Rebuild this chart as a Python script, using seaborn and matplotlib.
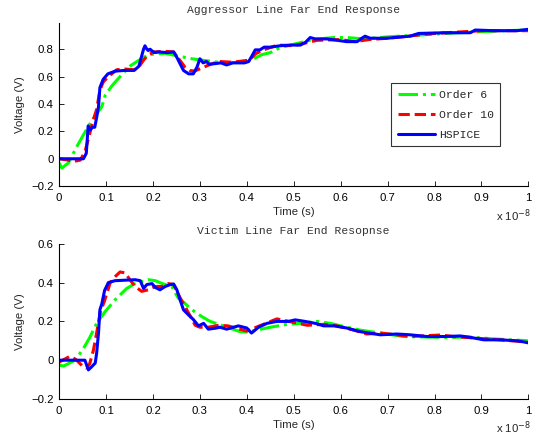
import matplotlib
matplotlib.use("Agg")
import matplotlib.pyplot as plt
import seaborn as sns

# time axis in units of 1e-8 s
agg_hspice_t = [0, 0.052, 0.058, 0.062, 0.066, 0.071, 0.076, 0.08, 0.084, 0.087, 0.094, 0.104,
                0.12, 0.14, 0.16, 0.17, 0.18, 0.183, 0.187, 0.19, 0.194, 0.197, 0.204, 0.212,
                0.23, 0.244, 0.251, 0.265, 0.276, 0.286, 0.294, 0.30, 0.307, 0.314, 0.32,
                0.333, 0.345, 0.357, 0.37, 0.379, 0.395, 0.404, 0.41, 0.418, 0.428, 0.437,
                0.45, 0.471, 0.493, 0.514, 0.525, 0.535, 0.546, 0.571, 0.592, 0.613, 0.635,
                0.645, 0.652, 0.663, 0.699, 0.748, 0.766, 0.82, 0.876, 0.887, 0.926, 0.976, 1.0]
agg_hspice_v = [0, 0, 0.04, 0.24, 0.21, 0.23, 0.23, 0.30, 0.38, 0.52, 0.58, 0.62,
                0.64, 0.645, 0.645, 0.675, 0.80, 0.825, 0.80, 0.79, 0.80, 0.79, 0.775, 0.78,
                0.775, 0.78, 0.74, 0.645, 0.62, 0.62, 0.67, 0.73, 0.70, 0.71, 0.69,
                0.695, 0.70, 0.685, 0.70, 0.70, 0.70, 0.71, 0.745, 0.795, 0.795, 0.815,
                0.815, 0.825, 0.83, 0.83, 0.85, 0.885, 0.875, 0.875, 0.865, 0.855, 0.855,
                0.88, 0.895, 0.88, 0.88, 0.895, 0.915, 0.92, 0.92, 0.94, 0.935, 0.935, 0.945]

agg_o10_t = [0, 0.02, 0.03, 0.045, 0.055, 0.062, 0.073, 0.08, 0.087, 0.094, 0.105, 0.123,
             0.14, 0.16, 0.17, 0.18, 0.19, 0.204, 0.225, 0.244, 0.255, 0.268, 0.278, 0.289,
             0.302, 0.323, 0.34, 0.37, 0.405, 0.42, 0.44, 0.466, 0.5, 0.55, 0.6, 0.63, 0.66,
             0.7, 0.8, 0.9, 1.0]
agg_o10_v = [0.0, -0.01, -0.02, -0.01, 0.05, 0.14, 0.285, 0.36, 0.50, 0.56, 0.60, 0.65,
             0.655, 0.65, 0.67, 0.72, 0.76, 0.78, 0.785, 0.78, 0.73, 0.67, 0.645, 0.64,
             0.66, 0.69, 0.71, 0.705, 0.72, 0.77, 0.80, 0.83, 0.825, 0.865, 0.87, 0.855, 0.87,
             0.88, 0.915, 0.935, 0.935]

agg_o6_t = [0, 0.006, 0.02, 0.038, 0.052, 0.07, 0.091, 0.098, 0.112, 0.13, 0.151, 0.166,
            0.19, 0.225, 0.254, 0.283, 0.304, 0.35, 0.4, 0.432, 0.45, 0.47, 0.54, 0.585,
            0.613, 0.65, 0.7, 0.8, 0.85, 0.95, 1.0]
agg_o6_v = [-0.03, -0.068, -0.03, 0.09, 0.175, 0.28, 0.38, 0.46, 0.53, 0.60, 0.676, 0.71,
            0.76, 0.77, 0.75, 0.73, 0.72, 0.70, 0.705, 0.76, 0.775, 0.81, 0.87, 0.885,
            0.885, 0.875, 0.89, 0.91, 0.92, 0.935, 0.94]

vic_hspice_t = [0, 0.055, 0.058, 0.0625, 0.069, 0.077, 0.08, 0.084, 0.087, 0.091, 0.097, 0.105,
                0.119, 0.162, 0.173, 0.18, 0.187, 0.198, 0.205, 0.215, 0.226, 0.237, 0.244,
                0.251, 0.258, 0.265, 0.276, 0.286, 0.297, 0.308, 0.318, 0.333, 0.343, 0.357,
                0.382, 0.40, 0.41, 0.425, 0.443, 0.464, 0.489, 0.503, 0.524, 0.546, 0.564,
                0.586, 0.613, 0.642, 0.663, 0.684, 0.72, 0.748, 0.784, 0.82, 0.855, 0.876,
                0.905, 0.94, 0.976, 1.0]
vic_hspice_v = [0, 0, -0.02, -0.05, -0.035, -0.015, 0.035, 0.14, 0.26, 0.29, 0.36, 0.40,
                0.41, 0.415, 0.41, 0.37, 0.39, 0.395, 0.375, 0.363, 0.38, 0.39, 0.393,
                0.363, 0.31, 0.26, 0.233, 0.21, 0.177, 0.19, 0.16, 0.165, 0.17, 0.16,
                0.177, 0.166, 0.14, 0.17, 0.19, 0.20, 0.20, 0.208, 0.20, 0.19, 0.177,
                0.177, 0.166, 0.147, 0.139, 0.131, 0.135, 0.131, 0.122, 0.122, 0.125, 0.118,
                0.105, 0.105, 0.10, 0.09]

vic_o10_t = [0, 0.023, 0.035, 0.052, 0.058, 0.065, 0.073, 0.08, 0.088, 0.096, 0.109, 0.119,
             0.13, 0.141, 0.151, 0.162, 0.176, 0.19, 0.205, 0.219, 0.233, 0.244, 0.254,
             0.265, 0.279, 0.29, 0.30, 0.318, 0.34, 0.36, 0.40, 0.425, 0.464, 0.48, 0.529,
             0.564, 0.592, 0.628, 0.656, 0.687, 0.748, 0.813, 0.84, 0.91, 0.976, 1.0]
vic_o10_v = [-0.01, 0.02, 0.005, -0.035, -0.04, -0.02, 0.05, 0.14, 0.25, 0.30, 0.40, 0.43,
             0.455, 0.45, 0.415, 0.38, 0.355, 0.363, 0.38, 0.38, 0.395, 0.39, 0.34,
             0.29, 0.23, 0.18, 0.17, 0.17, 0.18, 0.177, 0.15, 0.175, 0.213, 0.205, 0.18,
             0.185, 0.177, 0.155, 0.135, 0.14, 0.122, 0.13, 0.122, 0.11, 0.098, 0.09]

vic_o6_t = [0, 0.01, 0.034, 0.052, 0.066, 0.08, 0.098, 0.119, 0.144, 0.162, 0.19, 0.205,
            0.22, 0.24, 0.254, 0.265, 0.283, 0.304, 0.322, 0.386, 0.40, 0.45, 0.486,
            0.514, 0.55, 0.578, 0.613, 0.642, 0.67, 0.734, 0.77, 0.83, 0.87, 0.925, 1.0]
vic_o6_v = [-0.025, -0.03, 0.0, 0.06, 0.12, 0.19, 0.25, 0.31, 0.37, 0.395, 0.415, 0.41,
            0.395, 0.38, 0.32, 0.30, 0.26, 0.225, 0.20, 0.147, 0.145, 0.17, 0.185,
            0.19, 0.20, 0.19, 0.17, 0.155, 0.145, 0.122, 0.12, 0.117, 0.12, 0.11, 0.10]

titles = ["Aggressor Line Far End Response", "Victim Line Far End Resopnse"]
legend_labels = ["Order 6", "Order 10", "HSPICE"]
x_ticks = [0, 0.1, 0.2, 0.3, 0.4, 0.5, 0.6, 0.7, 0.8, 0.9, 1]
x_tick_labels = ["0", "0.1", "0.2", "0.3", "0.4", "0.5", "0.6", "0.7", "0.8", "0.9", "1"]

sns.set_style("white")
plt.rcParams["font.family"] = ["Liberation Sans", "DejaVu Sans"]
mono = ["Liberation Mono", "DejaVu Sans Mono"]

fig = plt.figure(figsize=(5.37, 4.37), dpi=100)
ax1 = fig.add_axes([0.110, 0.574, 0.874, 0.373])
ax2 = fig.add_axes([0.110, 0.087, 0.874, 0.355])

panels = [
    (ax1, agg_o6_t, agg_o6_v, agg_o10_t, agg_o10_v, agg_hspice_t, agg_hspice_v,
     (-0.2, 0.99), [-0.2, 0, 0.2, 0.4, 0.6, 0.8], ["\u22120.2", "0", "0.2", "0.4", "0.6", "0.8"]),
    (ax2, vic_o6_t, vic_o6_v, vic_o10_t, vic_o10_v, vic_hspice_t, vic_hspice_v,
     (-0.2, 0.6), [-0.2, 0, 0.2, 0.4, 0.6], ["\u22120.2", "0", "0.2", "0.4", "0.6"]),
]

for i, (ax, t6, v6, t10, v10, th, vh, ylim, yt, ytl) in enumerate(panels):
    sns.lineplot(x=t6, y=v6, ax=ax, color="#00ff00", linestyle="-.", linewidth=2.2,
                 label=legend_labels[0], legend=False)
    sns.lineplot(x=t10, y=v10, ax=ax, color="#ff0000", linestyle="--", linewidth=2.2,
                 label=legend_labels[1], legend=False)
    sns.lineplot(x=th, y=vh, ax=ax, color="#0000ff", linestyle="-", linewidth=2.2,
                 label=legend_labels[2], legend=False)
    ax.set_xlim(0, 1)
    ax.set_ylim(*ylim)
    ax.set_xticks(x_ticks)
    ax.set_xticklabels(x_tick_labels)
    ax.set_yticks(yt)
    ax.set_yticklabels(ytl)
    ax.tick_params(direction="in", length=3.5, width=0.6, labelsize=8.2, pad=4,
                   colors="black", bottom=True, left=True)
    ax.tick_params(axis="x", pad=5)
    for side in ["top", "right"]:
        ax.spines[side].set_visible(False)
    for side in ["left", "bottom"]:
        ax.spines[side].set_color("black")
        ax.spines[side].set_linewidth(0.8)
    ax.set_xlabel("Time (s)", fontsize=8.2, labelpad=3)
    ax.set_ylabel("Voltage (V)", fontsize=8.2, labelpad=4)
    ax.set_title(titles[i], fontsize=8.2, family=mono, color="#333333", pad=7)
    ax.annotate("x 10$^{-8}$", xy=(1.0, 0), xycoords="axes fraction",
                xytext=(2, -24.5), textcoords="offset points",
                ha="right", va="baseline", fontsize=8.2)

leg = ax1.legend(loc="upper left", bbox_to_anchor=(0.708, 0.63), frameon=True,
                 fancybox=False, edgecolor="black", handlelength=3.2,
                 prop={"family": mono, "size": 8.2}, borderpad=0.6, labelspacing=0.85,
                 handletextpad=0.35, borderaxespad=0)
leg.get_frame().set_linewidth(0.8)

fig.savefig("out.png", dpi=100)
